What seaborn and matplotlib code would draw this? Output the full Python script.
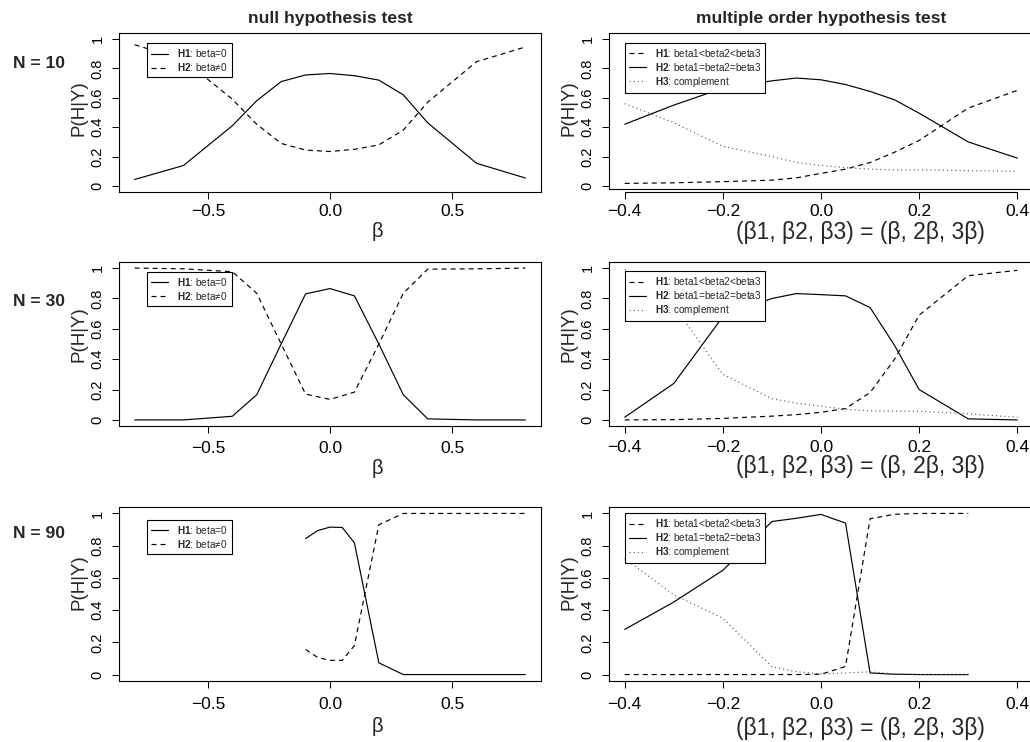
import matplotlib
matplotlib.use("Agg")
import matplotlib.pyplot as plt
import seaborn as sns

# ---------- values ----------
beta_null = [-0.8, -0.6, -0.4, -0.3, -0.2, -0.1, 0.0, 0.1, 0.2, 0.3, 0.4, 0.6, 0.8]
beta_null_n90 = [-0.1, -0.05, 0.0, 0.05, 0.1, 0.2, 0.3, 0.4, 0.6, 0.8]

null_h1_n10 = [0.045, 0.14, 0.41, 0.58, 0.71, 0.755, 0.765, 0.75, 0.72, 0.62, 0.43, 0.155, 0.055]
null_h2_n10 = [0.96, 0.86, 0.59, 0.42, 0.29, 0.245, 0.235, 0.25, 0.28, 0.38, 0.57, 0.845, 0.945]
null_h1_n30 = [0.0, 0.0, 0.024, 0.166, 0.5, 0.83, 0.865, 0.817, 0.5, 0.166, 0.007, 0.0, 0.0]
null_h2_n30 = [1.0, 0.995, 0.976, 0.834, 0.5, 0.17, 0.135, 0.183, 0.5, 0.834, 0.993, 0.995, 1.0]
null_h1_n90 = [0.844, 0.894, 0.915, 0.913, 0.817, 0.073, 0.0, 0.0, 0.0, 0.0]
null_h2_n90 = [0.156, 0.106, 0.088, 0.088, 0.18, 0.93, 1.0, 1.0, 1.0, 1.0]

beta_order = [-0.4, -0.3, -0.2, -0.1, -0.05, 0.0, 0.05, 0.1, 0.15, 0.2, 0.3, 0.4]
beta_order_n90 = [-0.4, -0.3, -0.2, -0.1, -0.05, 0.0, 0.05, 0.1, 0.15, 0.2, 0.3]

order_h1_n10 = [0.018, 0.022, 0.03, 0.04, 0.056, 0.086, 0.115, 0.16, 0.23, 0.31, 0.53, 0.65]
order_h2_n10 = [0.42, 0.55, 0.665, 0.715, 0.734, 0.722, 0.69, 0.643, 0.586, 0.495, 0.30, 0.19]
order_h3_n10 = [0.56, 0.43, 0.27, 0.20, 0.16, 0.14, 0.125, 0.115, 0.11, 0.11, 0.105, 0.10]
order_h1_n30 = [0.0, 0.002, 0.01, 0.025, 0.035, 0.05, 0.075, 0.18, 0.40, 0.69, 0.95, 0.985]
order_h2_n30 = [0.018, 0.24, 0.68, 0.80, 0.832, 0.825, 0.817, 0.74, 0.49, 0.20, 0.007, 0.0]
order_h3_n30 = [0.99, 0.75, 0.30, 0.14, 0.11, 0.09, 0.07, 0.06, 0.058, 0.057, 0.04, 0.018]
order_h1_n90 = [0.0, 0.0, 0.0, 0.0, 0.0, 0.002, 0.05, 0.967, 0.995, 1.0, 1.0]
order_h2_n90 = [0.28, 0.45, 0.647, 0.95, 0.97, 0.994, 0.94, 0.01, 0.002, 0.0, 0.0]
order_h3_n90 = [0.72, 0.495, 0.35, 0.048, 0.018, 0.004, 0.01, 0.017, 0.004, 0.0, 0.0]

sample_sizes = ["N = 10", "N = 30", "N = 90"]
col_titles = ["null hypothesis test", "multiple order hypothesis test"]
null_labels = [r"$\mathbf{H1}$: beta=0", r"$\mathbf{H2}$: beta≠0"]
order_labels = [r"$\mathbf{H1}$: beta1<beta2<beta3",
                r"$\mathbf{H2}$: beta1=beta2=beta3",
                r"$\mathbf{H3}$: complement"]
y_ticks = [0, 0.2, 0.4, 0.6, 0.8, 1]
y_ticklabels = ["0", "0.2", "0.4", "0.6", "0.8", "1"]
null_xticks = [-0.5, 0.0, 0.5]
null_xticklabels = ["\u22120.5", "0.0", "0.5"]
order_xticks = [-0.4, -0.2, 0.0, 0.2, 0.4]
order_xticklabels = ["\u22120.4", "\u22120.2", "0.0", "0.2", "0.4"]

# ---------- style (R base graphics look) ----------
sns.set_theme(style="ticks")
plt.rcParams["font.family"] = ["Liberation Sans", "DejaVu Sans"]
plt.rcParams.update({
    "mathtext.fontset": "custom",
    "mathtext.rm": "Liberation Sans",
    "mathtext.bf": "Liberation Sans:bold",
    "axes.edgecolor": "black",
    "axes.linewidth": 0.8,
    "xtick.color": "black",
    "ytick.color": "black",
    "xtick.major.size": 5,
    "ytick.major.size": 5,
    "xtick.major.width": 0.75,
    "ytick.major.width": 0.75,
    "lines.scale_dashes": False,
})

SOLID = ("-", "black")
DASHED = ((0, (3.6, 2.9)), "black")
DOTTED = ((0, (0.8, 2.2)), "0.35")

W, H = 1030, 742
fig = plt.figure(figsize=(W / 100, H / 100), dpi=100)


def px_axes(x0, y0, x1, y1):
    # pixel box (left, top, right, bottom) -> figure fraction axes
    return fig.add_axes([x0 / W, 1 - y1 / H, (x1 - x0) / W, (y1 - y0) / H])


def draw(ax, x, series, styles, labels):
    for vals, (ls, col), lab in zip(series, styles, labels):
        sns.lineplot(x=x, y=vals, ax=ax, color=col, lw=0.85,
                     linestyle=ls, label=lab)


def finish(ax, xticks, xticklabels, pad, leg_xy):
    ax.set_xticks(xticks, xticklabels)
    ax.set_yticks(y_ticks, y_ticklabels)
    ax.tick_params(axis="x", labelsize=12.5, pad=pad)
    ax.tick_params(axis="y", labelsize=10.5, pad=5.5, labelrotation=90)
    plt.setp(ax.get_yticklabels(), va="center")
    ax.set_xlabel("")
    ax.set_ylabel("")
    leg = ax.legend(loc="upper left", bbox_to_anchor=leg_xy, bbox_transform=ax.transData,
                    borderaxespad=0, fontsize=7.2, fancybox=False, edgecolor="black",
                    framealpha=1, handlelength=1.7, handletextpad=0.9,
                    borderpad=0.4, labelspacing=0.2)
    leg.get_frame().set_linewidth(0.8)


null_panels = [
    (beta_null, [null_h1_n10, null_h2_n10], (119, 33, 541, 192), 4, (-0.75, 0.97)),
    (beta_null, [null_h1_n30, null_h2_n30], (119, 262, 541, 426), 6, (-0.75, 0.975)),
    (beta_null_n90, [null_h1_n90, null_h2_n90], (119, 507, 541, 681), 6.5, (-0.75, 0.96)),
]
order_panels = [
    (beta_order, [order_h1_n10, order_h2_n10, order_h3_n10], (609, 33, 1033, 189), 3, (-0.4, 0.973)),
    (beta_order, [order_h1_n30, order_h2_n30, order_h3_n30], (609, 262, 1033, 426), 5, (-0.4, 0.98)),
    (beta_order_n90, [order_h1_n90, order_h2_n90, order_h3_n90], (609, 507, 1033, 681), 6.5, (-0.4, 1.0)),
]

ylabel_y = [108, 334, 582]
beta_y = [231, 469, 727]
order_xlabel_y = [232, 467, 729]
n_label_y = [63, 302, 533]

for row in range(3):
    # ----- left column: null hypothesis test -----
    x, series, box, pad, leg_xy = null_panels[row]
    ax = px_axes(*box)
    draw(ax, x, series, [SOLID, DASHED], null_labels)
    ax.set_xlim(-0.864, 0.864)
    ax.set_ylim(-0.04, 1.04)
    finish(ax, null_xticks, null_xticklabels, pad, leg_xy)
    fig.text((box[0] - 40) / W, 1 - ylabel_y[row] / H, "P(H|Y)", rotation=90,
             ha="center", va="center", fontsize=13.5)
    fig.text(377 / W, 1 - beta_y[row] / H, "β", ha="center", va="center", fontsize=14.5)
    fig.text(39 / W, 1 - n_label_y[row] / H, sample_sizes[row], ha="center",
             va="center", fontsize=12.6, fontweight="bold")

    # ----- right column: multiple order hypothesis test -----
    x, series, box, pad, leg_xy = order_panels[row]
    ax = px_axes(*box)
    draw(ax, x, series, [DASHED, SOLID, DOTTED], order_labels)
    ax.set_xlim(-0.432, 0.432)
    ax.set_ylim(-0.02 if row == 0 else -0.04, 1.04)
    finish(ax, order_xticks, order_xticklabels, pad, leg_xy)
    if row == 0:
        # the axis line sits a little below the box in this panel
        ax.spines["bottom"].set_position(("outward", 2.5))
        ax.spines["bottom"].set_bounds(-0.4, 0.4)
        ax.plot([0, 1], [0, 0], transform=ax.transAxes, color="black",
                lw=0.8, clip_on=False)
    fig.text((box[0] - 40) / W, 1 - ylabel_y[row] / H, "P(H|Y)", rotation=90,
             ha="center", va="center", fontsize=13.5)
    fig.text(860 / W, 1 - order_xlabel_y[row] / H, "(β1, β2, β3) = (β, 2β, 3β)",
             ha="center", va="center", fontsize=16.5)

fig.text(330 / W, 1 - 18 / H, col_titles[0], ha="center", va="center",
         fontsize=12.6, fontweight="bold")
fig.text(821 / W, 1 - 18 / H, col_titles[1], ha="center", va="center",
         fontsize=12.6, fontweight="bold")

fig.savefig("out.png", dpi=100)
